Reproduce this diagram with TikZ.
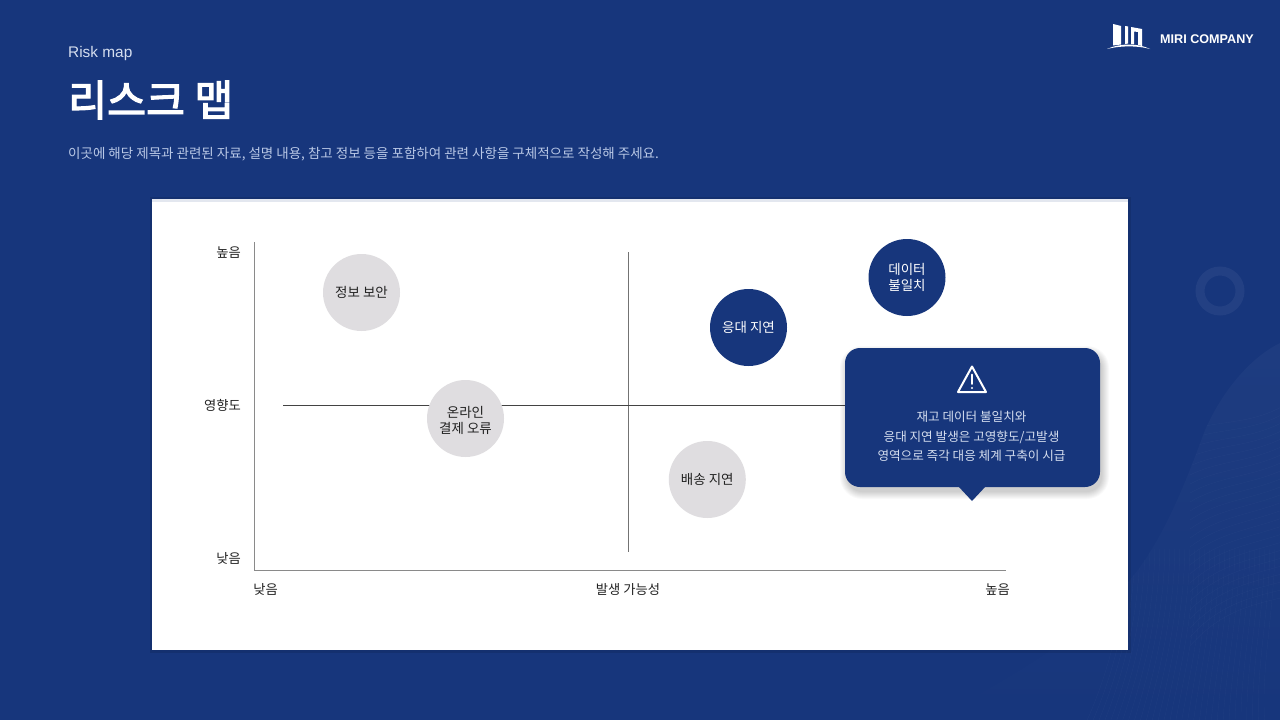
\documentclass[tikz,border=0pt]{standalone}
\usepackage{fontspec}
\setmainfont{Noto Sans CJK KR}
\newfontfamily\latinf{Liberation Sans}
\newfontfamily\titlef[FakeBold=3]{Noto Sans CJK KR}
\usetikzlibrary{calc}
\definecolor{navy}{HTML}{17367C}
\definecolor{bubble}{HTML}{DFDDE0}
\definecolor{subtext}{HTML}{B9C8E6}
\definecolor{calltext}{HTML}{D5DEEF}
\definecolor{axisc}{HTML}{8A8A8A}
\definecolor{ink}{HTML}{222222}
\newcommand{\dn}[2][0.8pt]{\raisebox{-#1}{#2}}
\tikzset{
  x=1pt,y=-1pt,
  circlebase/.style={circle,minimum size=77pt,inner sep=0pt,align=center,font=\fontsize{13.5}{16.5}\selectfont},
  lowrisk/.style={circlebase,fill=bubble,text=ink},
  highrisk/.style={circlebase,fill=navy,text=white},
  axislabel/.style={font=\fontsize{13.3}{16}\selectfont,text=ink,inner sep=0pt},
  axisline/.style={draw=axisc,line width=1pt},
  midline/.style={draw=ink!85,line width=0.7pt},
  wave/.style={draw=white,line width=0.35pt,draw opacity=0.03},
}
\begin{document}
\begin{tikzpicture}
\useasboundingbox (0,0) rectangle (1280,720);
\fill[navy] (0,0) rectangle (1280,720);

% background wave
\begin{scope}
\clip (930,720) .. controls (1010,680) and (1090,630) .. (1128,582) .. controls (1165,540) and (1190,470) .. (1205,430) .. controls (1225,385) and (1255,355) .. (1280,343) -- (1280,720) -- cycle;
\shade[top color=navy!97!white,middle color=navy!94!white,bottom color=navy] (900,343) rectangle (1280,720);
\foreach \i in {0,...,24}{
  \draw[wave] (1190,{430+\i*9}) .. controls (1220,{420+\i*8}) and (1250,{425+\i*7.5}) .. (1285,{405+\i*8});
}
\foreach \i in {0,...,30}{
  \draw[wave] ({1125+\i*5},540) .. controls ({1125+\i*5},610) and ({1110+\i*5},670) .. ({1085+\i*6},725);
}
\end{scope}

% ring
\draw[navy!95!white,line width=9pt] (1220,291) circle (20);

% logo
\begin{scope}
\fill[white] (1113,24) -- (1121,26) -- (1121,44.5) -- (1113,45.5) -- cycle;
\fill[white] (1125,26) -- (1128,26.5) -- (1128,43.5) -- (1125,44) -- cycle;
\fill[white] (1131,27) -- (1142,29) -- (1142,46) -- (1138,45) -- (1138,32) -- (1134,31.5) -- (1134,44) -- (1131,44) -- cycle;
\fill[white] (1107,49) .. controls (1120,43) and (1138,43) .. (1150,49) .. controls (1138,45.5) and (1120,45.5) .. (1107,49) -- cycle;
\end{scope}
\node[anchor=west,inner sep=0pt,text=white,font=\latinf\fontsize{12.6}{15}\selectfont\bfseries] (company) at (1160,39) {MIRI COMPANY};

% header
\node[anchor=west,inner sep=0pt,text=calltext,font=\latinf\fontsize{15.4}{18}\selectfont] (eyebrow) at (68,53.5) {Risk map};
\node[anchor=west,inner sep=0pt,text=white,font=\titlef\fontsize{42.3}{50}\selectfont] (title) at (68,100) {리스크 맵};
\node[anchor=west,inner sep=0pt,text=subtext,font=\fontsize{13.5}{16}\selectfont] (desc) at (68,154) {이곳에 해당 제목과 관련된 자료, 설명 내용, 참고 정보 등을 포함하여 관련 사항을 구체적으로 작성해 주세요.};

% card
\fill[black,opacity=0.10] (149.5,196.5) rectangle (1131,653);
\fill[white] (152,199) rectangle (1128.2,650.2);
\fill[navy!12] (152,199) rectangle (1128.2,201.6);

% axes
\coordinate (ytop) at (254,242);
\coordinate (origin) at (254,570);
\coordinate (xend) at (1006,570);
\draw[axisline] (ytop) -- (origin) -- (xend);
\coordinate (vtop) at (628,252);
\coordinate (vbot) at (628,552);
\draw[axisline,draw=black!55] (vtop) -- (vbot);
\coordinate (hl) at (283,405.5);
\coordinate (hr) at (850,405.5);
\draw[midline] (hl) -- (hr);

% axis labels
\node[axislabel,anchor=east] (yhigh) at (241,253) {높음};
\node[axislabel,anchor=east] (ymid) at (241,405) {영향도};
\node[axislabel,anchor=east] (ylow) at (241,558) {낮음};
\node[axislabel] (xlow) at (265.5,589) {낮음};
\node[axislabel] (xmid) at (628,590) {발생 가능성};
\node[axislabel] (xhigh) at (997.5,590) {높음};

% bubbles
\node[lowrisk] (sec) at (361.5,292.5) {\dn{정보 보안}};
\node[lowrisk] (pay) at (465.5,418.5) {\rule{0pt}{15.5pt}온라인\\[-0.6pt]결제 오류};
\node[lowrisk] (ship) at (707.3,479.5) {\dn{배송 지연}};
\node[highrisk] (resp) at (748.5,327.5) {\dn{응대 지연}};
\node[highrisk] (data) at (907,277.5) {\dn[1.4pt]{데이터}\\[-0.6pt]\dn[1.4pt]{불일치}};

% callout shadow
\foreach \s in {7,6,...,0}{
  \fill[black,opacity=0.022,rounded corners={15pt+\s*1pt}] ({845-\s+2},{348-\s+5}) rectangle ({1100+\s+2},{487+\s+5});
}
% callout
\fill[navy] (972,501) -- (958,486) -- (986,486) -- cycle;
\fill[navy,rounded corners=15pt] (845,348) rectangle (1100,487);
\node[inner sep=0pt,align=center,text=calltext,font=\fontsize{12.6}{19.5}\selectfont] (calltxt) at (971.5,436.5) {재고 데이터 불일치와\\응대 지연 발생은 고영향도/고발생\\영역으로 즉각 대응 체계 구축이 시급};
% warning icon
\draw[white,line width=2pt,line join=round] (972,366.5) -- (986,392) -- (958,392) -- cycle;
\draw[white,line width=1.7pt,line cap=round] (972,374.5) -- (972,384);
\fill[white] (972,388) circle (1.2);
\end{tikzpicture}
\end{document}
